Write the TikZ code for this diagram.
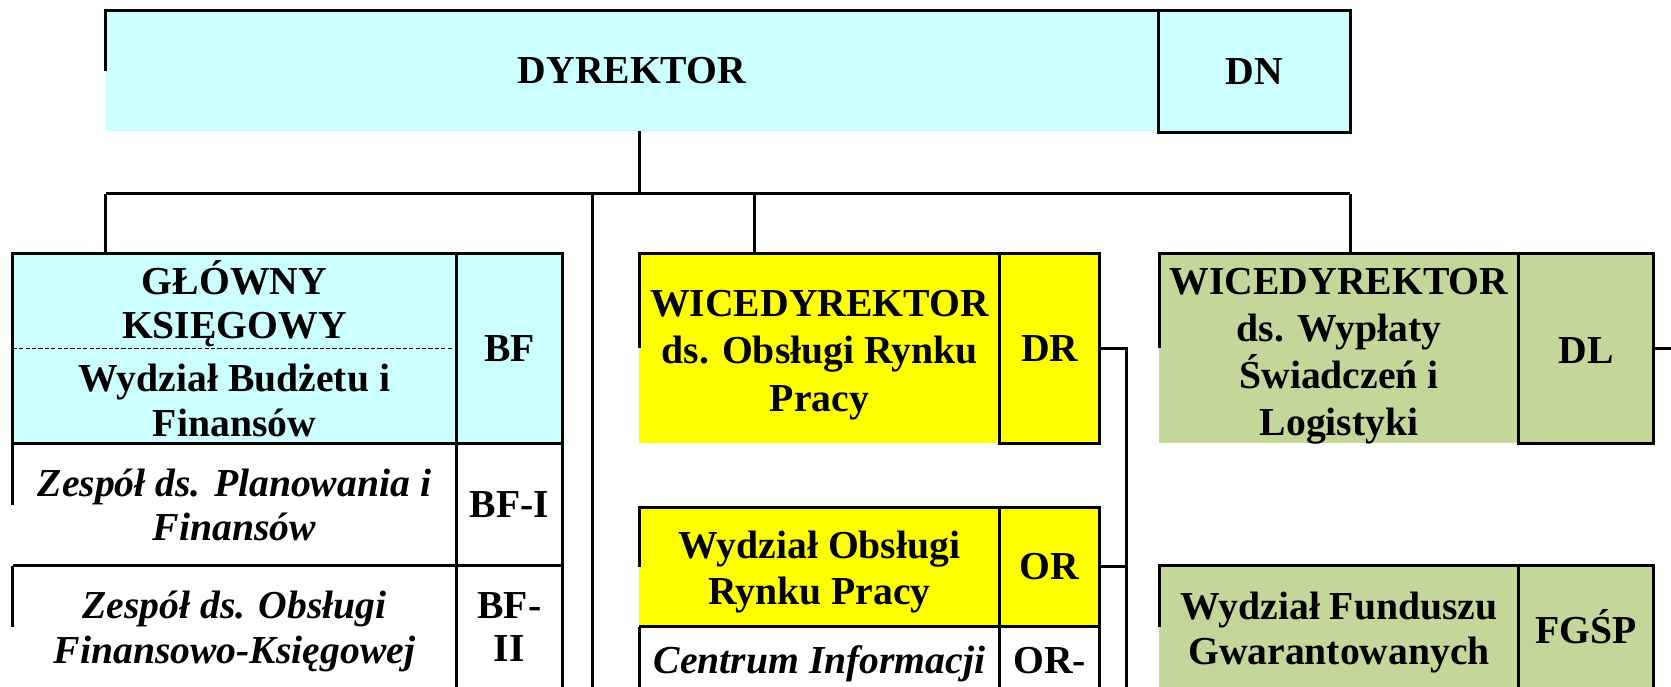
\documentclass[tikz,border=0pt]{standalone}
\usepackage{fontspec}
\setmainfont{Liberation Serif}
\usetikzlibrary{calc}
\definecolor{cyanbg}{HTML}{CCFFFF}
\definecolor{yellowbg}{HTML}{FFFF00}
\definecolor{greenbg}{HTML}{C4D79B}
\begin{document}
\begin{tikzpicture}[x=0.5pt,y=-0.5pt,line width=1.4pt,
  box/.style={rectangle,inner sep=0pt,outer sep=0pt,align=center},
  cell/.style={box,draw},
  lbl/.style={inner sep=0pt,align=center},
  txt/.style={font=\fontsize{18.6}{#1}\selectfont\bfseries},
  itxt/.style={font=\fontsize{18.6}{#1}\selectfont\bfseries\itshape},
  txt/.default=22.25,
  itxt/.default=20.5]
\useasboundingbox (0,0) rectangle (1568,644);

% DYREKTOR
\node[box,txt,fill=cyanbg,minimum width=494pt,minimum height=56.5pt] (dyr) at (593,66.5) {DYREKTOR};
\node[cell,txt,fill=cyanbg,minimum width=90pt,minimum height=57pt] (dn) at (1177,67) {DN};
\draw (dyr.west) -- (dyr.north west) -- (dyr.north east);

% Glowny ksiegowy
\node[cell,txt=20.75,fill=cyanbg,minimum width=208pt,minimum height=89pt] (gk) at (220,327) {GŁÓWNY\\KSIĘGOWY\\[4.25pt]Wydział Budżetu i\\Finansów};
\node[cell,txt,fill=cyanbg,minimum width=50pt,minimum height=89pt] (bf) at (478,327) {BF};
\draw[line width=0.5pt,dash pattern=on 2pt off 1pt] (gk.west) -- ($(gk.east)+(-4,0)$);

\node[box,itxt,minimum width=208pt,minimum height=57.5pt] (zp1) at (220,473.5) {Zespół ds. Planowania i\\Finansów};
\node[cell,txt,minimum width=50pt,minimum height=57.5pt] (bf1) at (478,473.5) {BF-I};
\draw (zp1.west) -- (zp1.north west);
\draw (zp1.south west) -- (zp1.south east);

\node[box,minimum width=208pt,minimum height=57.5pt] (zp2) at (220,588.5) {};
\node[lbl,itxt=21] (zp2t) at ($(zp2.center)+(0,4)$) {Zespół ds. Obsługi\\Finansowo-Księgowej};
\node[cell,txt=20.5,minimum width=50pt,minimum height=57.5pt] (bf2) at (478,588.5) {BF-\\II};
\draw (zp2.west) -- (zp2.north west);

% Wicedyrektor DR
\node[box,fill=yellowbg,minimum width=169pt,minimum height=89pt] (wd1) at (769,327) {};
\node[lbl,txt] (wd1t) at ($(wd1.center)+(0,6)$) {WICEDYREKTOR\\ds. Obsługi Rynku\\Pracy};
\node[cell,txt,fill=yellowbg,minimum width=47pt,minimum height=89pt] (dr) at (985,327) {DR};
\draw (wd1.west) -- (wd1.north west) -- (wd1.north east);

\node[box,fill=yellowbg,minimum width=169pt,minimum height=56pt] (wo) at (769,532) {};
\node[lbl,txt=21.5] (wot) at ($(wo.center)+(0,4.5)$) {Wydział Obsługi\\Rynku Pracy};
\node[cell,txt,fill=yellowbg,minimum width=47pt,minimum height=56pt] (orc) at (985,532) {OR};
\draw (wo.west) -- (wo.north west) -- (wo.north east);
\draw (wo.south west) -- (wo.south east);

\node[box,minimum width=169pt,minimum height=32pt] (ci) at (769,620) {};
\node[lbl,itxt] (cit) at ($(ci.center)+(0,3)$) {Centrum Informacji};
\node[cell,txt,minimum width=47pt,minimum height=32pt] (orx) at (985,620) {OR-};
\draw (ci.north west) -- (ci.south west);

% Wicedyrektor DL
\node[box,fill=greenbg,minimum width=168.5pt,minimum height=89pt] (wl) at (1256.5,327) {};
\node[lbl,txt=22] (wlt) at ($(wl.center)+(0,7)$) {WICEDYREKTOR\\ds. Wypłaty\\Świadczeń i\\Logistyki};
\node[cell,fill=greenbg,minimum width=63.5pt,minimum height=89pt] (dl) at (1488.5,327) {};
\node[lbl,txt] (dlt) at ($(dl.center)+(0,2)$) {DL};
\draw (wl.west) -- (wl.north west) -- (wl.north east);

\node[box,fill=greenbg,minimum width=168.5pt,minimum height=57.5pt] (wf) at (1256.5,588.5) {};
\node[lbl,txt=21] (wft) at ($(wf.center)+(0,5)$) {Wydział Funduszu\\Gwarantowanych};
\node[cell,txt,fill=greenbg,minimum width=63.5pt,minimum height=57.5pt] (fg) at (1488.5,588.5) {FGŚP};
\draw (wf.west) -- (wf.north west) -- (wf.north east);

% connectors
\coordinate (top) at (600,182);
\coordinate (b1) at (99,182);
\coordinate (b2) at (556,182);
\coordinate (b3) at (708,182);
\coordinate (b4) at (1267,182);
\coordinate (b2end) at (556,660);
\coordinate (rv) at (1057,660);
\coordinate (dlend) at (1580,327);

\draw (dyr.south -| top) -- (top);
\draw (b1) -- (b4);
\draw (b1) -- (b1 |- gk.north);
\draw (b2) -- (b2end);
\draw (b3) -- (b3 |- wd1.north);
\draw (b4) -- (b4 |- wl.north);
\draw (dr.east) -- (dr.east -| rv) -- (rv);
\draw (orc.east) -- (orc.east -| rv);
\draw (dl.east) -- (dlend);
\end{tikzpicture}
\end{document}
